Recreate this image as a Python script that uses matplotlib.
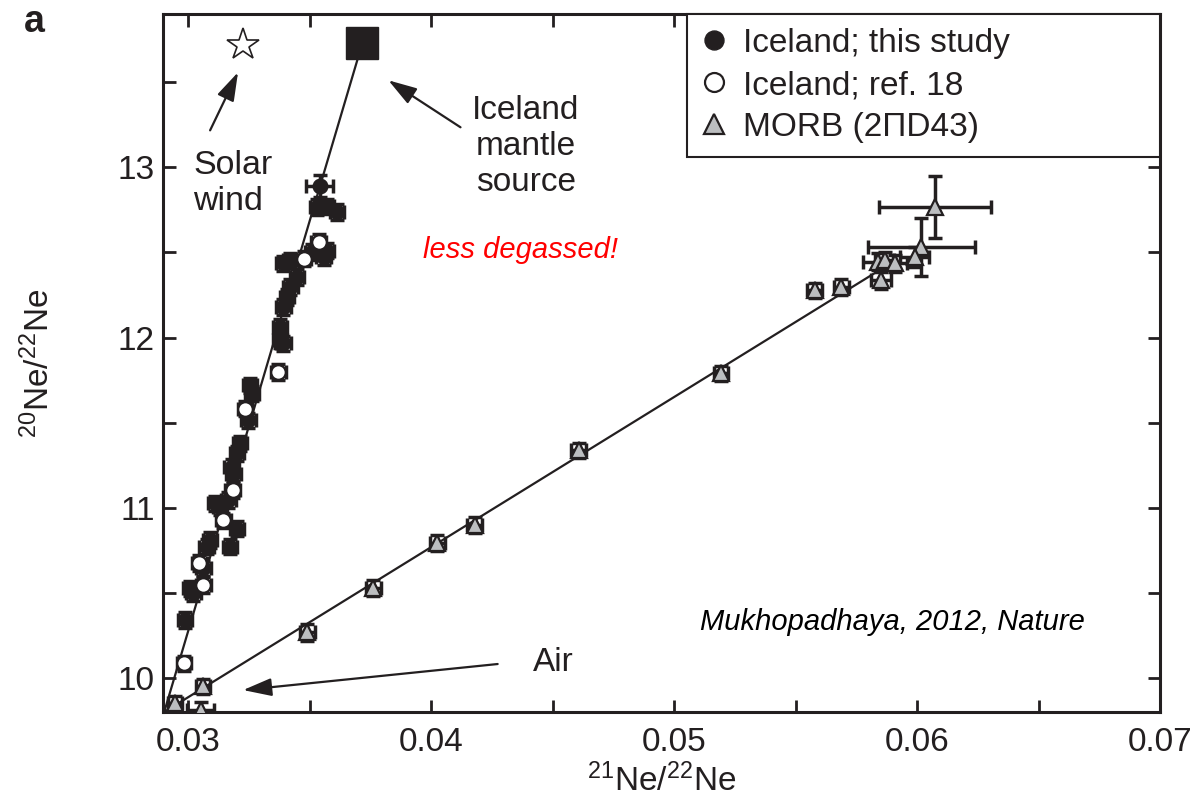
import matplotlib
matplotlib.use("Agg")
import matplotlib.pyplot as plt

plt.rcParams['font.family'] = ['Liberation Sans', 'DejaVu Sans']
plt.rcParams['mathtext.fontset'] = 'custom'
plt.rcParams['mathtext.rm'] = 'Liberation Sans'
plt.rcParams['mathtext.it'] = 'Liberation Sans:italic'

INK = '#231f20'
MORB_FACE = '#bcbec0'

# Iceland; this study (filled circles)
ice_x = [0.03540, 0.03529, 0.03570, 0.03611, 0.03419, 0.03391, 0.03556, 0.03570,
         0.03508, 0.03446, 0.03419, 0.03405, 0.03391, 0.03377, 0.03377, 0.03391,
         0.03254, 0.03261, 0.03247, 0.03212, 0.03199, 0.03178, 0.03185, 0.03164,
         0.03130, 0.03109, 0.03199, 0.03171, 0.03089, 0.03075, 0.03061, 0.03006,
         0.03020, 0.02986]
ice_y = [12.888, 12.767, 12.770, 12.738, 12.454, 12.435, 12.473, 12.510,
         12.503, 12.356, 12.297, 12.238, 12.180, 12.062, 11.984, 11.965,
         11.720, 11.671, 11.514, 11.378, 11.319, 11.240, 11.201, 11.045,
         11.005, 11.025, 10.878, 10.771, 10.810, 10.771, 10.644, 10.526,
         10.497, 10.340]
ice_xerr = [0.00055] + [0.0003] * 33
ice_yerr = [0.065] + [0.045] * 33

# Iceland; ref. 18 (open circles)
ref_x = [0.03536, 0.03474, 0.03370, 0.03233, 0.03182, 0.03144, 0.03045, 0.03061, 0.02981]
ref_y = [12.561, 12.464, 11.798, 11.583, 11.103, 10.927, 10.676, 10.546, 10.086]
ref_xerr = [0.0003] * 9
ref_yerr = [0.045] * 9

# MORB (2PiD43) triangles
morb_x = [0.06073, 0.06018, 0.05990, 0.05839, 0.05866, 0.05908, 0.05852, 0.05578,
          0.05688, 0.05193, 0.04607, 0.04178, 0.04025, 0.03761, 0.03489, 0.03060,
          0.03050, 0.02944]
morb_y = [12.767, 12.532, 12.473, 12.444, 12.454, 12.435, 12.336, 12.278,
          12.297, 11.789, 11.338, 10.898, 10.792, 10.528, 10.270, 9.950,
          9.812, 9.851]
morb_xerr = [0.0023, 0.0022, 0.0006, 0.0006, 0.0004, 0.0005, 0.0004, 0.0003,
             0.0003, 0.0003, 0.0003, 0.0003, 0.0003, 0.0003, 0.0003, 0.0003,
             0.00055, 0.0003]
morb_yerr = [0.18, 0.17, 0.06, 0.05, 0.05, 0.05, 0.05, 0.045,
             0.045, 0.045, 0.045, 0.045, 0.045, 0.045, 0.05, 0.045,
             0.045, 0.045]

# end members
air = (0.0290, 9.80)
solar_wind = (0.03225, 13.716)
iceland_source = (0.03716, 13.73)
morb_end = (0.0585, 12.40)


def main():
    fig = plt.figure(figsize=(11.94, 8.05), dpi=100)
    ax = fig.add_axes([0.1365, 0.1155, 0.835, 0.867])

    # mixing lines
    ax.plot([air[0], iceland_source[0]], [air[1], iceland_source[1]],
            color=INK, lw=1.6, zorder=1)
    ax.plot([air[0], morb_end[0]], [air[1], morb_end[1]],
            color=INK, lw=1.6, zorder=1)

    eb = dict(fmt='none', ecolor=INK, elinewidth=2.5, capsize=5, capthick=2.5, zorder=2)
    ax.errorbar(morb_x, morb_y, xerr=morb_xerr, yerr=morb_yerr, **eb)
    ax.errorbar(ice_x, ice_y, xerr=ice_xerr, yerr=ice_yerr, **eb)
    ax.errorbar(ref_x, ref_y, xerr=ref_xerr, yerr=ref_yerr, **eb)

    ax.plot(ice_x, ice_y, 'o', ls='none', ms=10.5, mfc=INK, mec=INK,
            label='Iceland; this study', zorder=3)
    ax.plot(ref_x, ref_y, 'o', ls='none', ms=10.5, mfc='white', mec=INK, mew=1.6,
            label='Iceland; ref. 18', zorder=4)
    ax.plot(morb_x, morb_y, '^', ls='none', ms=11.5, mfc=MORB_FACE, mec=INK, mew=1.6,
            label='MORB (2\u03a0D43)', zorder=3)

    ax.plot(*iceland_source, 's', ms=23, color=INK, zorder=5)
    ax.plot(*solar_wind, '*', ms=24, mfc='white', mec=INK, mew=1.2, zorder=5)

    arrow = dict(arrowstyle='-|>,head_length=0.7,head_width=0.22', color=INK,
                 lw=1.6, mutation_scale=25, shrinkA=0, shrinkB=0)
    ax.annotate('', xy=(0.03204, 13.558), xytext=(0.03089, 13.217), arrowprops=arrow)
    ax.annotate('', xy=(0.03823, 13.511), xytext=(0.04120, 13.235), arrowprops=arrow)
    ax.annotate('', xy=(0.03225, 9.929), xytext=(0.04273, 10.082), arrowprops=arrow)

    ax.text(0.03019, 12.906, 'Solar\nwind', fontsize=24.5, color=INK,
            ha='left', va='center', linespacing=1.2)
    ax.text(0.04388, 13.123, 'Iceland\nmantle\nsource', fontsize=24, color=INK,
            ha='center', va='center', multialignment='center', linespacing=1.2)
    ax.text(0.04504, 10.093, 'Air', fontsize=24, color=INK, ha='center', va='center')
    ax.text(0.04368, 12.513, 'less degassed!', fontsize=21, color='red',
            style='italic', ha='center', va='center')
    ax.text(0.05900, 10.328, 'Mukhopadhaya, 2012, Nature', fontsize=21, color='black',
            style='italic', ha='center', va='center')

    ax.set_xlim(0.02895, 0.07)
    ax.set_ylim(9.80, 13.90)
    ax.set_xticks([0.03, 0.04, 0.05, 0.06, 0.07])
    ax.set_xticklabels(['0.03', '0.04', '0.05', '0.06', '0.07'])
    ax.set_xticks([0.035, 0.045, 0.055, 0.065], minor=True)
    ax.set_yticks([10, 11, 12, 13])
    ax.set_yticks([10.5, 11.5, 12.5, 13.5], minor=True)
    ax.tick_params(which='both', direction='in', top=True, right=True,
                   length=9, width=2, color=INK, labelcolor=INK, labelsize=24)
    ax.tick_params(axis='x', pad=11)
    ax.tick_params(axis='y', pad=6)
    for s in ax.spines.values():
        s.set_linewidth(2.2)
        s.set_color(INK)

    ax.set_xlabel(r'$^{21}$Ne/$^{22}$Ne', fontsize=24, color=INK, labelpad=4)
    ax.set_ylabel(r'$^{20}$Ne/$^{22}$Ne', fontsize=24, color=INK, labelpad=44)

    leg = ax.legend(loc='upper left', bbox_to_anchor=(0.5256, 0.0, 0.4744, 1.0),
                    mode='expand', borderaxespad=0, fontsize=24, frameon=True,
                    fancybox=False, handlelength=0.8, handletextpad=0.45,
                    labelspacing=0.33, borderpad=0.42, markerscale=1.3)
    leg.get_frame().set_edgecolor(INK)
    leg.get_frame().set_linewidth(1.5)
    leg.get_frame().set_alpha(1)
    for t in leg.get_texts():
        t.set_color(INK)

    fig.text(0.02, 0.995, 'a', fontsize=27, fontweight='bold', color=INK,
             ha='left', va='top')

    fig.savefig('out.png', dpi=100)


if __name__ == "__main__":
    main()
